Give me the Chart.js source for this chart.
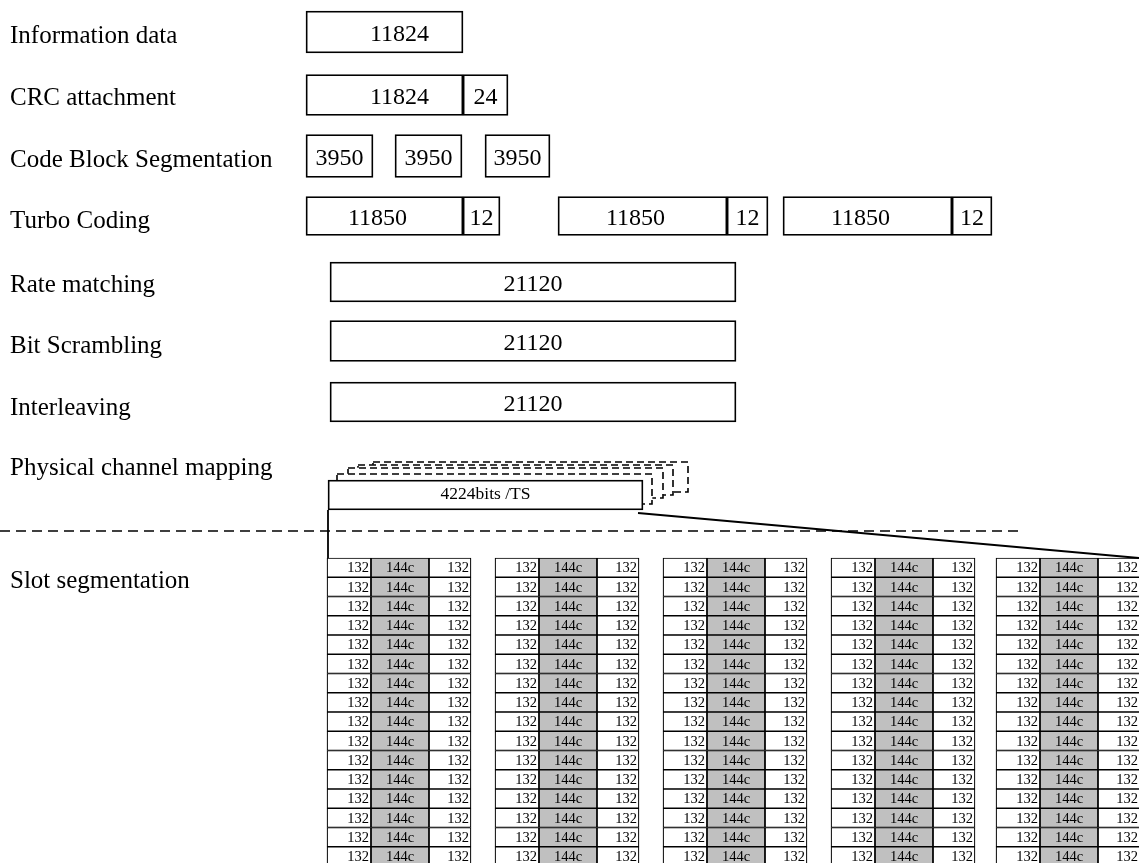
<!DOCTYPE html>
<html>
<head>
<meta charset="utf-8">
<script src="https://cdn.jsdelivr.net/npm/chart.js@4"></script>
<style>
  html, body { margin: 0; padding: 0; background: #fff; }
  canvas { display: block; }
</style>
</head>
<body>
<canvas id="chart" width="1139" height="863"></canvas>
<script>
// stage names and block sizes (bits)
const stageNames = ['Information data', 'CRC attachment', 'Code Block Segmentation', 'Turbo Coding',
    'Rate matching', 'Bit Scrambling', 'Interleaving', 'Physical channel mapping', 'Slot segmentation'];
const blockInfo = ['11824'];
const blockCrc = ['11824', '24'];
const blockSegment = ['3950', '3950', '3950'];
const blockTurbo = ['11850', '12', '11850', '12', '11850', '12'];
const blockRate = ['21120'];
const blockScramble = ['21120'];
const blockInterleave = ['21120'];
const blockPhys = ['4224bits /TS'];
const slotCells = ['132', '144c', '132'];
const slotGroupCount = 5;
const slotRowCount = 16;

// layout of the drawing (pixels of the page)
const labelX = 10;
const labelY = [36, 98, 160, 221, 285, 346, 408, 468, 581];
const boxY = [32, 95, 156, 216, 282, 341, 402];
const boxH = [42, 41, 43, 39, 40, 41, 40];
const boxSpans = [
    [[306, 463]],
    [[306, 463], [463, 508]],
    [[306, 373], [395, 462], [485, 550]],
    [[306, 463], [463, 500], [558, 727], [727, 768], [783, 952], [952, 992]],
    [[330, 736]],
    [[330, 736]],
    [[330, 736]]
];
// small horizontal nudges of the numbers inside the boxes
const boxTextShift = [
    [15],
    [15, 0],
    [0, 0, 0],
    [-7, 0, -7, 0, -7, 0],
    [0], [0], [0]
];
const physBox = { left: 328, right: 643, top: 480, bottom: 510 };
const physStack = [[45, -18], [30, -15], [20, -12], [9, -6]];
const slotTop = 558;
const slotRowH = 19.25;
const slotGroupX = [327, 495, 663, 831, 996];
const slotCellEdges = [0, 44, 102, 144];

const serif = '"Liberation Serif", "Times New Roman", serif';
const grey = '#c0c0c0';

const stageBlocks = [blockInfo, blockCrc, blockSegment, blockTurbo, blockRate, blockScramble, blockInterleave];

const datasets = [];

// the seven upper stages
stageBlocks.forEach((blocks, i) => {
    datasets.push({
        type: 'bar',
        stack: 'all',
        data: blocks.map((t, j) => ({ y: boxY[i], x: boxSpans[i][j], t: t, dx: boxTextShift[i][j] })),
        barThickness: boxH[i],
        backgroundColor: '#fff',
        borderColor: '#000',
        borderWidth: 1.8,
        borderSkipped: false,
        textSize: 24,
        textDy: 3,
        order: 1
    });
});

// stacked dashed copies behind the physical channel box
const physMid = (physBox.top + physBox.bottom) / 2;
const physH = physBox.bottom - physBox.top;
physStack.forEach(([dx, dy], k) => {
    const l = physBox.left + dx, r = physBox.right + dx;
    const t = physBox.top + dy, b = physBox.bottom + dy;
    datasets.push({
        type: 'bar',
        stack: 'all',
        data: [{ y: physMid + dy, x: [l, r] }],
        barThickness: physH,
        backgroundColor: '#fff',
        borderWidth: 0,
        order: 30 - k * 2
    });
    datasets.push({
        type: 'line',
        indexAxis: 'x',
        data: [{ x: l, y: t }, { x: r, y: t }, { x: r, y: b }, { x: l, y: b }, { x: l, y: t }],
        borderColor: '#000',
        borderWidth: 1.6,
        borderDash: [7, 4],
        pointRadius: 0,
        fill: false,
        tension: 0,
        order: 29 - k * 2
    });
});

datasets.push({
    type: 'bar',
    stack: 'all',
    data: [{ y: physMid, x: [physBox.left, physBox.right], t: blockPhys[0] }],
    barThickness: physH,
    backgroundColor: '#fff',
    borderColor: '#000',
    borderWidth: 1.8,
    borderSkipped: false,
    textSize: 17.5,
    textDy: -1,
    order: 10
});

// connector lines
const plainLine = (pts, dash) => ({
    type: 'line',
    indexAxis: 'x',
    data: pts,
    borderColor: '#000',
    borderWidth: dash ? 1.4 : 1.8,
    borderDash: dash || [],
    pointRadius: 0,
    fill: false,
    tension: 0,
    order: 2
});
datasets.push(plainLine([{ x: 0, y: 531 }, { x: 1020, y: 531 }], [10, 6]));
datasets.push(plainLine([{ x: physBox.left, y: physBox.bottom }, { x: physBox.left, y: slotTop }]));
datasets.push(plainLine([{ x: 638, y: 513 }, { x: 1139, y: 558 }]));

// slot segmentation table
const cellData = [];
for (let g = 0; g < slotGroupCount; g++) {
    for (let r = 0; r < slotRowCount; r++) {
        const yc = slotTop + r * slotRowH + slotRowH / 2;
        slotCells.forEach((t, c) => {
            cellData.push({
                y: yc,
                x: [slotGroupX[g] + slotCellEdges[c], slotGroupX[g] + slotCellEdges[c + 1]],
                t: t,
                shade: c === 1,
                align: c === 1 ? 'center' : 'right'
            });
        });
    }
}
datasets.push({
    type: 'bar',
    stack: 'all',
    data: cellData,
    barThickness: slotRowH,
    backgroundColor: ctx => (ctx.raw && ctx.raw.shade) ? grey : '#fff',
    borderColor: '#000',
    borderWidth: 1.2,
    borderSkipped: false,
    textSize: 14.5,
    textDy: 1,
    order: 3
});

const boxText = {
    id: 'boxText',
    afterDatasetsDraw(chart) {
        const ctx = chart.ctx;
        ctx.save();
        ctx.fillStyle = '#000';
        ctx.textBaseline = 'middle';
        chart.data.datasets.forEach((ds, i) => {
            if (ds.type !== 'bar' || !ds.textSize) return;
            ctx.font = ds.textSize + 'px ' + serif;
            chart.getDatasetMeta(i).data.forEach((bar, j) => {
                const item = ds.data[j];
                if (!item.t) return;
                const left = Math.min(bar.x, bar.base);
                const right = Math.max(bar.x, bar.base);
                const y = bar.y + (ds.textDy || 0);
                if (item.align === 'right') {
                    ctx.textAlign = 'right';
                    ctx.fillText(item.t, right - 2, y);
                } else {
                    ctx.textAlign = 'center';
                    ctx.fillText(item.t, (left + right) / 2 + (item.dx || 0), y);
                }
            });
        });
        // stage names on the left
        const ys = chart.scales.y;
        ctx.font = '25px ' + serif;
        ctx.textAlign = 'left';
        stageNames.forEach((name, i) => {
            ctx.fillText(name, labelX, ys.getPixelForValue(labelY[i]));
        });
        ctx.restore();
    }
};

new Chart(document.getElementById('chart'), {
    type: 'bar',
    data: { datasets: datasets },
    options: {
        indexAxis: 'y',
        responsive: false,
        animation: false,
        layout: { padding: 0 },
        plugins: { legend: { display: false }, tooltip: { enabled: false } },
        scales: {
            x: { type: 'linear', min: 0, max: 1139, display: false, offset: false, stacked: false, grid: { offset: false } },
            y: { type: 'linear', min: 0, max: 863, reverse: true, display: false, offset: false, grid: { offset: false } }
        }
    },
    plugins: [boxText]
});
</script>
</body>
</html>
